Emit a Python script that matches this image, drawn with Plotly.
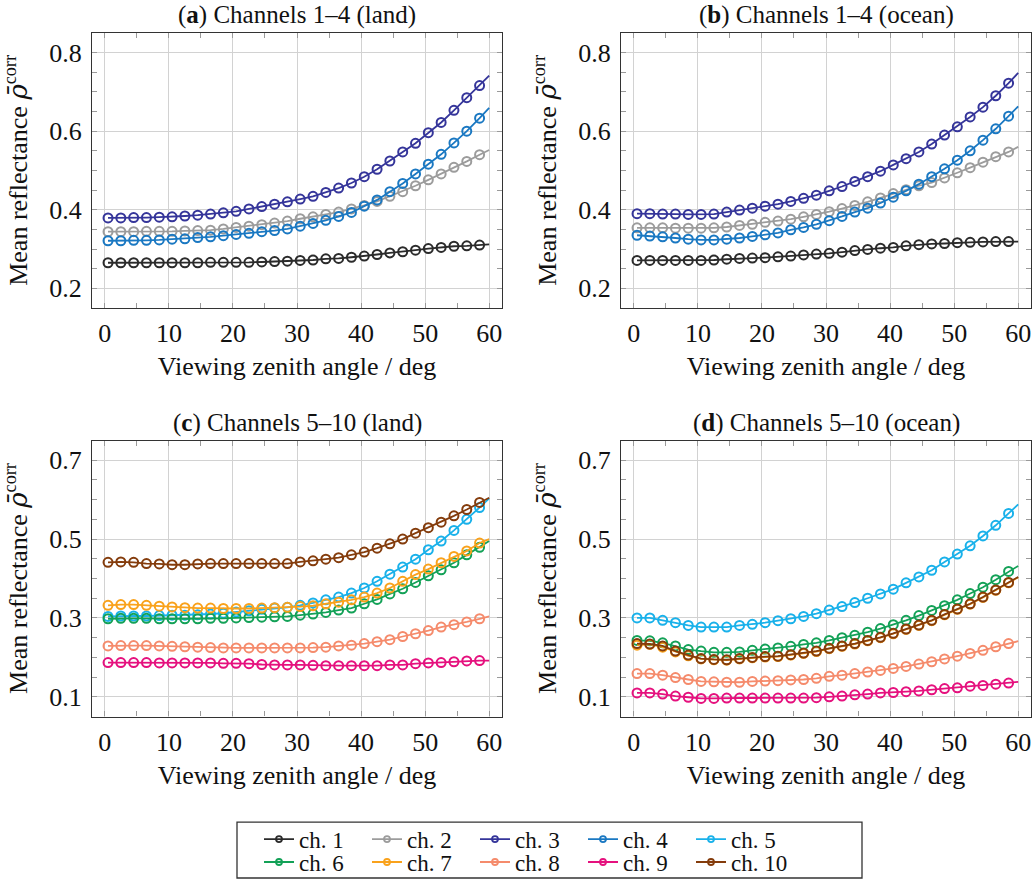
import plotly.graph_objects as go

FONT = "Liberation Serif, DejaVu Serif, serif"

# Viewing zenith angle of the markers (deg) and end of the fitted lines
VZA = [0.5, 2.5, 4.5, 6.5, 8.5, 10.5, 12.5, 14.5, 16.5, 18.5,
       20.5, 22.5, 24.5, 26.5, 28.5, 30.5, 32.5, 34.5, 36.5, 38.5,
       40.5, 42.5, 44.5, 46.5, 48.5, 50.5, 52.5, 54.5, 56.5, 58.5]
VZA_END = 60

CHANNELS = ["ch. 1", "ch. 2", "ch. 3", "ch. 4", "ch. 5",
            "ch. 6", "ch. 7", "ch. 8", "ch. 9", "ch. 10"]
COLORS = ["#2b2b2b", "#9c9c9c", "#35359a", "#1a78c2", "#19b1ea",
          "#13a157", "#f9a21c", "#f58b6c", "#e5117e", "#843c0c"]

PANEL_TITLES = ["(<b>a</b>) Channels 1–4 (land)", "(<b>b</b>) Channels 1–4 (ocean)",
                "(<b>c</b>) Channels 5–10 (land)", "(<b>d</b>) Channels 5–10 (ocean)"]
X_TITLE = "Viewing zenith angle / deg"
Y_TITLE = ("Mean reflectance <span style=\"font-family:DejaVu Serif\"><i>ρ̄</i></span>"
           "<sup>corr</sup>")

# ---- panel (a): channels 1-4, land ----
a_ch1 = [0.265, 0.265, 0.265, 0.265, 0.265, 0.265, 0.265, 0.265, 0.266, 0.266,
         0.266, 0.266, 0.267, 0.268, 0.269, 0.271, 0.272, 0.275, 0.276, 0.279,
         0.282, 0.286, 0.290, 0.293, 0.297, 0.301, 0.304, 0.307, 0.308, 0.310]
a_ch2 = [0.344, 0.344, 0.344, 0.345, 0.345, 0.345, 0.346, 0.347, 0.348, 0.351,
         0.355, 0.358, 0.362, 0.366, 0.371, 0.377, 0.382, 0.388, 0.394, 0.402,
         0.411, 0.421, 0.434, 0.446, 0.461, 0.476, 0.491, 0.508, 0.523, 0.540]
a_ch3 = [0.379, 0.379, 0.380, 0.380, 0.381, 0.382, 0.384, 0.386, 0.389, 0.392,
         0.396, 0.402, 0.408, 0.414, 0.420, 0.427, 0.434, 0.444, 0.455, 0.468,
         0.484, 0.503, 0.524, 0.547, 0.569, 0.596, 0.622, 0.653, 0.685, 0.716]
a_ch4 = [0.321, 0.321, 0.322, 0.322, 0.323, 0.325, 0.326, 0.329, 0.331, 0.334,
         0.337, 0.340, 0.344, 0.347, 0.351, 0.358, 0.365, 0.373, 0.383, 0.393,
         0.409, 0.425, 0.446, 0.467, 0.491, 0.516, 0.541, 0.570, 0.600, 0.633]
a_end = [0.312, 0.552, 0.741, 0.659]

# ---- panel (b): channels 1-4, ocean ----
b_ch1 = [0.271, 0.271, 0.271, 0.271, 0.271, 0.271, 0.272, 0.274, 0.276, 0.277,
         0.278, 0.280, 0.282, 0.285, 0.287, 0.289, 0.292, 0.296, 0.299, 0.302,
         0.304, 0.308, 0.311, 0.313, 0.314, 0.316, 0.317, 0.318, 0.319, 0.319]
b_ch2 = [0.354, 0.354, 0.354, 0.353, 0.353, 0.353, 0.354, 0.356, 0.360, 0.363,
         0.368, 0.371, 0.376, 0.382, 0.388, 0.395, 0.403, 0.411, 0.420, 0.430,
         0.441, 0.451, 0.461, 0.469, 0.481, 0.494, 0.507, 0.521, 0.535, 0.547]
b_ch3 = [0.390, 0.390, 0.389, 0.389, 0.388, 0.388, 0.389, 0.394, 0.399, 0.404,
         0.409, 0.414, 0.421, 0.429, 0.437, 0.448, 0.459, 0.472, 0.484, 0.498,
         0.514, 0.530, 0.547, 0.567, 0.590, 0.611, 0.636, 0.661, 0.690, 0.722]
b_ch4 = [0.335, 0.333, 0.331, 0.328, 0.325, 0.323, 0.323, 0.325, 0.328, 0.332,
         0.336, 0.341, 0.349, 0.355, 0.363, 0.372, 0.383, 0.394, 0.404, 0.417,
         0.432, 0.448, 0.465, 0.484, 0.504, 0.526, 0.550, 0.577, 0.606, 0.638]
b_end = [0.319, 0.560, 0.748, 0.663]

# ---- panel (c): channels 5-10, land ----
c_ch5 = [0.304, 0.305, 0.305, 0.305, 0.306, 0.307, 0.307, 0.308, 0.310, 0.312,
         0.315, 0.318, 0.322, 0.325, 0.327, 0.332, 0.338, 0.346, 0.353, 0.363,
         0.376, 0.393, 0.411, 0.429, 0.449, 0.473, 0.495, 0.522, 0.550, 0.580]
c_ch6 = [0.298, 0.299, 0.299, 0.299, 0.298, 0.298, 0.298, 0.298, 0.299, 0.299,
         0.300, 0.301, 0.302, 0.303, 0.304, 0.307, 0.310, 0.314, 0.320, 0.325,
         0.336, 0.347, 0.361, 0.374, 0.390, 0.407, 0.422, 0.440, 0.460, 0.479]
c_ch7 = [0.332, 0.334, 0.334, 0.332, 0.330, 0.328, 0.326, 0.325, 0.325, 0.324,
         0.324, 0.324, 0.325, 0.326, 0.327, 0.329, 0.331, 0.336, 0.340, 0.346,
         0.353, 0.363, 0.376, 0.393, 0.410, 0.424, 0.440, 0.456, 0.470, 0.490]
c_ch8 = [0.229, 0.230, 0.230, 0.230, 0.229, 0.228, 0.227, 0.226, 0.225, 0.224,
         0.224, 0.224, 0.224, 0.224, 0.224, 0.224, 0.225, 0.226, 0.229, 0.231,
         0.235, 0.240, 0.245, 0.253, 0.260, 0.268, 0.277, 0.283, 0.290, 0.298]
c_ch9 = [0.187, 0.187, 0.187, 0.187, 0.186, 0.186, 0.186, 0.186, 0.186, 0.185,
         0.185, 0.184, 0.182, 0.181, 0.181, 0.181, 0.180, 0.179, 0.179, 0.179,
         0.179, 0.179, 0.181, 0.181, 0.184, 0.186, 0.187, 0.189, 0.191, 0.192]
c_ch10 = [0.441, 0.442, 0.441, 0.438, 0.437, 0.435, 0.435, 0.437, 0.438, 0.438,
          0.438, 0.438, 0.438, 0.438, 0.438, 0.442, 0.445, 0.449, 0.453, 0.460,
          0.467, 0.477, 0.488, 0.500, 0.515, 0.529, 0.543, 0.559, 0.575, 0.593]
c_end = [0.603, 0.495, 0.500, 0.304, 0.192, 0.605]

# ---- panel (d): channels 5-10, ocean ----
d_ch5 = [0.300, 0.300, 0.294, 0.288, 0.281, 0.277, 0.277, 0.277, 0.281, 0.284,
         0.288, 0.293, 0.298, 0.304, 0.311, 0.320, 0.329, 0.339, 0.350, 0.361,
         0.373, 0.389, 0.404, 0.421, 0.442, 0.462, 0.483, 0.508, 0.535, 0.565]
d_ch6 = [0.243, 0.242, 0.237, 0.229, 0.220, 0.216, 0.213, 0.213, 0.214, 0.218,
         0.221, 0.224, 0.228, 0.233, 0.237, 0.243, 0.250, 0.256, 0.264, 0.273,
         0.283, 0.294, 0.306, 0.319, 0.331, 0.346, 0.362, 0.378, 0.397, 0.418]
d_ch7 = [0.231, 0.233, 0.226, 0.214, 0.204, 0.196, 0.194, 0.193, 0.196, 0.199,
         0.201, 0.202, 0.206, 0.210, 0.215, 0.222, 0.228, 0.234, 0.242, 0.250,
         0.260, 0.271, 0.281, 0.293, 0.308, 0.322, 0.335, 0.352, 0.370, 0.389]
d_ch8 = [0.159, 0.159, 0.155, 0.149, 0.144, 0.139, 0.138, 0.137, 0.137, 0.139,
         0.140, 0.141, 0.143, 0.144, 0.147, 0.152, 0.155, 0.159, 0.163, 0.167,
         0.172, 0.177, 0.183, 0.189, 0.196, 0.203, 0.210, 0.218, 0.227, 0.235]
d_ch9 = [0.110, 0.110, 0.107, 0.102, 0.099, 0.096, 0.096, 0.097, 0.097, 0.097,
         0.097, 0.097, 0.097, 0.097, 0.098, 0.100, 0.102, 0.105, 0.107, 0.110,
         0.111, 0.113, 0.115, 0.118, 0.121, 0.123, 0.127, 0.129, 0.132, 0.135]
d_ch10 = [0.235, 0.234, 0.229, 0.216, 0.206, 0.197, 0.195, 0.194, 0.197, 0.200,
          0.202, 0.203, 0.207, 0.211, 0.216, 0.223, 0.229, 0.235, 0.243, 0.251,
          0.261, 0.272, 0.282, 0.294, 0.309, 0.323, 0.336, 0.353, 0.371, 0.390]
d_end = [0.588, 0.432, 0.403, 0.241, 0.138, 0.404]

PANELS = [
    ([0, 1, 2, 3], [a_ch1, a_ch2, a_ch3, a_ch4], a_end),
    ([0, 1, 2, 3], [b_ch1, b_ch2, b_ch3, b_ch4], b_end),
    ([4, 5, 6, 7, 8, 9], [c_ch5, c_ch6, c_ch7, c_ch8, c_ch9, c_ch10], c_end),
    ([4, 5, 6, 7, 8, 9], [d_ch5, d_ch6, d_ch7, d_ch8, d_ch9, d_ch10], d_end),
]

W, H = 1033, 884
# plot-area pixel boxes (left, right, top, bottom)
BOXES = [(92, 502, 33, 309), (621, 1031, 33, 309),
         (92, 502, 442, 719), (621, 1031, 442, 719)]

fig = go.Figure()

for p, (chans, series, ends) in enumerate(PANELS):
    xa = "x" if p == 0 else f"x{p+1}"
    ya = "y" if p == 0 else f"y{p+1}"
    for ci, vals, endv in zip(chans, series, ends):
        col = COLORS[ci]
        fig.add_trace(go.Scatter(
            x=VZA + [VZA_END], y=vals + [endv], mode="lines",
            line=dict(color=col, width=1.8), xaxis=xa, yaxis=ya,
            showlegend=False, hoverinfo="skip"))
        fig.add_trace(go.Scatter(
            x=VZA, y=vals, mode="markers", name=CHANNELS[ci],
            marker=dict(symbol="circle-open", size=9, color=col,
                        line=dict(width=2, color=col)),
            xaxis=xa, yaxis=ya, showlegend=False))

# legend-only entries (two rows)
for ci, name in enumerate(CHANNELS):
    fig.add_trace(go.Scatter(
        x=[None], y=[None], mode="lines+markers", name=name,
        line=dict(color=COLORS[ci], width=1.8),
        marker=dict(symbol="circle-open", size=6, color=COLORS[ci],
                    line=dict(width=1.8, color=COLORS[ci])),
        legend="legend" if ci < 5 else "legend2", showlegend=True))

TXT = "#111111"
TICKFONT = dict(family=FONT, size=26, color=TXT)
TITLEFONT = dict(family=FONT, size=26, color=TXT)
axis_common = dict(
    showgrid=True, gridcolor="#d2d2d2", gridwidth=1,
    ticks="inside", ticklen=5, tickwidth=1, tickcolor="#9a9a9a",
    showline=True, linecolor="#333333", linewidth=1.3, mirror="allticks",
    zeroline=False, tickfont=TICKFONT, fixedrange=True,
)

layout = dict(
    width=W, height=H, margin=dict(l=0, r=0, t=0, b=0),
    paper_bgcolor="white", plot_bgcolor="white",
    font=dict(family=FONT, size=24, color=TXT),
)

for p, (l, r, t, b) in enumerate(BOXES):
    sfx = "" if p == 0 else str(p + 1)
    xdom = [l / W, r / W]
    ydom = [1 - b / H, 1 - t / H]
    if p < 2:
        yrange, y0 = [0.15, 0.85], 0.2
    else:
        yrange, y0 = [0.05, 0.75], 0.1
    layout["xaxis" + sfx] = dict(
        axis_common, domain=xdom, range=[-2, 62], tick0=0, dtick=10,
        anchor="y" + sfx, ticklabelstandoff=2,
        title=dict(text=X_TITLE, font=TITLEFONT, standoff=9),
        minor=dict(dtick=5, tick0=0, ticks="inside", ticklen=5,
                   tickcolor="#9a9a9a", showgrid=False))
    layout["yaxis" + sfx] = dict(
        axis_common, domain=ydom, range=yrange, tick0=y0, dtick=0.2,
        tickformat=".1f", anchor="x" + sfx, ticklabelstandoff=4,
        title=dict(text=Y_TITLE, font=TITLEFONT, standoff=14),
        minor=dict(dtick=0.05, tick0=0, ticks="inside", ticklen=5,
                   tickcolor="#9a9a9a", showgrid=False))

legend_common = dict(
    orientation="h", xanchor="left", yanchor="middle",
    entrywidth=63, entrywidthmode="pixels", bgcolor="rgba(0,0,0,0)",
    borderwidth=0, font=dict(family=FONT, size=23, color=TXT),
    tracegroupgap=0, itemclick=False, itemdoubleclick=False,
)
layout["legend"] = dict(legend_common, x=259 / W, y=1 - 842 / H)
layout["legend2"] = dict(legend_common, x=259 / W, y=1 - 865 / H)

annotations = []
for p, (l, r, t, b) in enumerate(BOXES):
    cx = (l + r) / 2
    annotations.append(dict(
        text=PANEL_TITLES[p], x=cx / W, y=1 - (t - 18) / H, xref="paper",
        yref="paper", showarrow=False, xanchor="center", yanchor="middle",
        font=dict(family=FONT, size=25, color=TXT)))
layout["annotations"] = annotations

layout["shapes"] = [dict(
    type="rect", xref="paper", yref="paper",
    x0=237 / W, x1=862 / W, y0=1 - 881 / H, y1=1 - 825 / H,
    line=dict(color="#333333", width=1.3), fillcolor="rgba(0,0,0,0)")]

fig.update_layout(**layout)
fig.write_html("out.html")
